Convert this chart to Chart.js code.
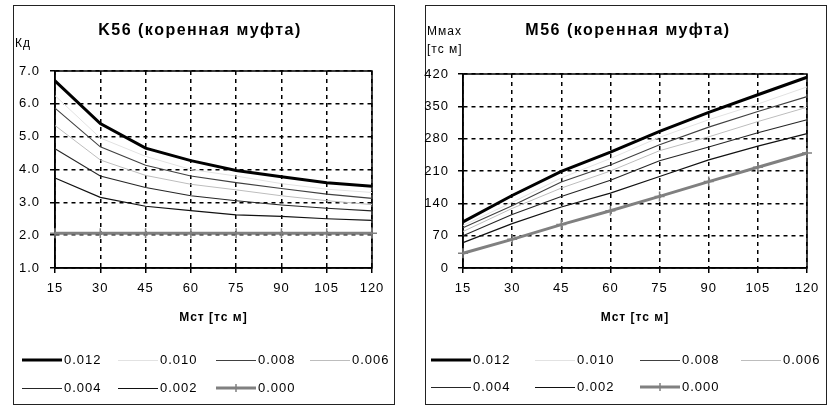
<!DOCTYPE html>
<html>
<head>
<meta charset="utf-8">
<script src="https://cdn.jsdelivr.net/npm/chart.js@4.4.1/dist/chart.umd.min.js"></script>
<style>
  body { margin: 0; background: #fff; }
  .panel { position: absolute; box-sizing: border-box; border: 1px solid #222; }
  canvas { position: absolute; top: 0; }
</style>
</head>
<body>
<div class="panel" style="left:13px;top:5px;width:382px;height:400px"></div>
<div class="panel" style="left:425px;top:5px;width:402px;height:400px"></div>
<canvas id="kdChart" width="415" height="406" style="left:0"></canvas>
<canvas id="mmaxChart" width="416" height="406" style="left:415px"></canvas>
<script>
// Mst [тс м] categories
var mstLabels = ['15', '30', '45', '60', '75', '90', '105', '120'];
var seriesLabels = ['0.012', '0.010', '0.008', '0.006', '0.004', '0.002', '0.000'];

// K56 - Кд
var kd012 = [6.70, 5.40, 4.65, 4.27, 3.97, 3.78, 3.60, 3.49];
var kd010 = [6.25, 4.96, 4.40, 4.00, 3.80, 3.57, 3.40, 3.30];
var kd008 = [5.87, 4.69, 4.13, 3.80, 3.60, 3.42, 3.25, 3.12];
var kd006 = [5.34, 4.29, 3.82, 3.55, 3.38, 3.20, 3.05, 2.93];
var kd004 = [4.63, 3.80, 3.45, 3.20, 3.05, 2.92, 2.82, 2.74];
var kd002 = [3.74, 3.15, 2.88, 2.75, 2.62, 2.57, 2.50, 2.45];
var kd000 = [2.06, 2.06, 2.06, 2.06, 2.06, 2.06, 2.06, 2.06];

// M56 - Mmax [тс м]
var mmax012 = [100, 157, 209, 251, 296, 337, 375, 413];
var mmax010 = [92, 142, 195, 237, 283, 321, 355, 392];
var mmax008 = [87, 135, 186, 223, 267, 305, 339, 371];
var mmax006 = [79, 129, 173, 210, 254, 284, 317, 348];
var mmax004 = [70, 116, 155, 190, 232, 262, 293, 321];
var mmax002 = [55, 96, 132, 162, 198, 234, 264, 291];
var mmax000 = [32, 62, 94, 124, 155, 187, 218, 249];

var kdTicks = { min: 1, max: 7, step: 0.5 };
var mmaxTicks = { min: 0, max: 420, step: 70 };

var seriesStyles = [
    { color: '#000000', width: 3 },
    { color: '#e2e2e2', width: 1 },
    { color: '#404040', width: 1.1 },
    { color: '#bdbdbd', width: 1 },
    { color: '#262626', width: 1.1 },
    { color: '#111111', width: 1.2 },
    { color: '#808080', width: 3, cross: true }
];

var FONT = "'Liberation Sans', Arial, sans-serif";
Chart.defaults.font.family = FONT;
Chart.defaults.color = '#000';

function makeDatasets(series) {
    var sets = [];
    for (var i = 0; i < series.length; i++) {
        var st = seriesStyles[i];
        sets.push({
            label: seriesLabels[i],
            data: series[i],
            borderColor: st.color,
            backgroundColor: st.color,
            borderWidth: st.width,
            tension: 0,
            fill: false,
            clip: false,
            pointStyle: st.cross ? 'cross' : 'circle',
            pointRadius: st.cross ? 5 : 0,
            pointBorderWidth: 1.5,
            pointHoverRadius: 0
        });
    }
    // draw thick black on top
    return sets.reverse();
}

// frame, titles and legend drawn by hand so they sit where the original had them
var panelDecor = {
    id: 'panelDecor',
    beforeDraw: function(chart) {
        chart.ctx.letterSpacing = '1px';
    },
    beforeDatasetsDraw: function(chart) {
        var a = chart.chartArea;
        var ctx = chart.ctx;
        ctx.save();
        ctx.strokeStyle = '#000';
        ctx.lineWidth = 1.5;
        ctx.strokeRect(a.left, a.top, a.right - a.left, a.bottom - a.top);
        ctx.restore();
    },
    afterDraw: function(chart, args, opts) {
        var ctx = chart.ctx;
        ctx.save();
        ctx.fillStyle = '#000';
        ctx.textBaseline = 'middle';

        ctx.letterSpacing = '1.5px';
        ctx.font = 'bold 16px ' + FONT;
        ctx.textAlign = 'center';
        ctx.fillText(opts.title, opts.titleX, opts.titleY);

        ctx.letterSpacing = '1px';
        ctx.font = '12px ' + FONT;
        ctx.textAlign = 'left';
        for (var k = 0; k < opts.yLabel.length; k++) {
            ctx.fillText(opts.yLabel[k], opts.yLabelX, opts.yLabelY + k * 18);
        }

        // legend
        var sets = chart.data.datasets.slice().reverse();
        ctx.font = '13px ' + FONT;
        for (var i = 0; i < sets.length; i++) {
            var row = Math.floor(i / 4);
            var col = i % 4;
            var tx = opts.legendX[col];
            var ty = opts.legendY[row];
            var ds = sets[i];
            var ly = ds.borderWidth < 2 ? ty + 0.5 : ty;
            ctx.strokeStyle = ds.borderColor;
            ctx.lineWidth = ds.borderWidth < 2 ? 1 : ds.borderWidth;
            ctx.beginPath();
            ctx.moveTo(tx - 42, ly);
            ctx.lineTo(tx - 2, ly);
            ctx.stroke();
            if (ds.pointStyle === 'cross') {
                ctx.lineWidth = 1.5;
                ctx.beginPath();
                ctx.moveTo(tx - 22, ty - 4);
                ctx.lineTo(tx - 22, ty + 4);
                ctx.stroke();
            }
            ctx.fillText(ds.label, tx, ty);
        }
        ctx.restore();
    }
};

function makeChart(id, series, yTicks, yFmt, layout, decor) {
    var canvas = document.getElementById(id);
    return new Chart(canvas.getContext('2d'), {
        type: 'line',
        data: { labels: mstLabels, datasets: makeDatasets(series) },
        options: {
            responsive: false,
            animation: false,
            layout: { padding: layout.padding },
            plugins: {
                legend: { display: false },
                tooltip: { enabled: false },
                panelDecor: decor
            },
            scales: {
                x: {
                    offset: false,
                    afterFit: function(scale) { scale.height = layout.xHeight; },
                    grid: { color: '#000', lineWidth: 1.5, tickLength: 5, tickWidth: 1.5, tickColor: '#000' },
                    border: { dash: [4, 4], color: '#000', width: 1.5 },
                    ticks: { autoSkip: false, maxRotation: 0, padding: 8, font: { size: 13 } },
                    title: {
                        display: true,
                        text: 'Мст [тс м]',
                        font: { size: 12, weight: 'bold' },
                        padding: { top: 0, bottom: 0 }
                    }
                },
                y: {
                    min: yTicks.min,
                    max: yTicks.max,
                    afterFit: function(scale) { scale.width = layout.yWidth; },
                    grid: {
                        color: function(c) {
                            return c.tick && c.tick.label === '' ? 'rgba(0,0,0,0)' : '#000';
                        },
                        lineWidth: 1.5, tickLength: 5, tickWidth: 1.5, tickColor: '#000'
                    },
                    border: { dash: [4, 4], color: '#000', width: 1.5 },
                    ticks: {
                        stepSize: yTicks.step,
                        padding: layout.yPad,
                        font: { size: 13 },
                        callback: yFmt
                    }
                }
            }
        },
        plugins: [panelDecor]
    });
}

makeChart('kdChart',
    [kd012, kd010, kd008, kd006, kd004, kd002, kd000],
    kdTicks,
    function(v) { return v % 1 === 0 ? v.toFixed(1) : ''; },
    { padding: { left: 15, right: 43, top: 71, bottom: 81 }, yWidth: 40, xHeight: 57, yPad: 10 },
    {
        title: 'K56 (коренная муфта)', titleX: 200, titleY: 31,
        yLabel: ['Кд'], yLabelX: 15, yLabelY: 44,
        legendX: [64, 160, 258, 352], legendY: [360, 388]
    });

makeChart('mmaxChart',
    [mmax012, mmax010, mmax008, mmax006, mmax004, mmax002, mmax000],
    mmaxTicks,
    function(v) { return String(v); },
    { padding: { left: 8, right: 24, top: 74, bottom: 81 }, yWidth: 40, xHeight: 57, yPad: 9 },
    {
        title: 'M56 (коренная муфта)', titleX: 213, titleY: 31,
        yLabel: ['Ммах', '[тс м]'], yLabelX: 12, yLabelY: 32,
        legendX: [58, 162, 267, 368], legendY: [360, 387]
    });
</script>
</body>
</html>
